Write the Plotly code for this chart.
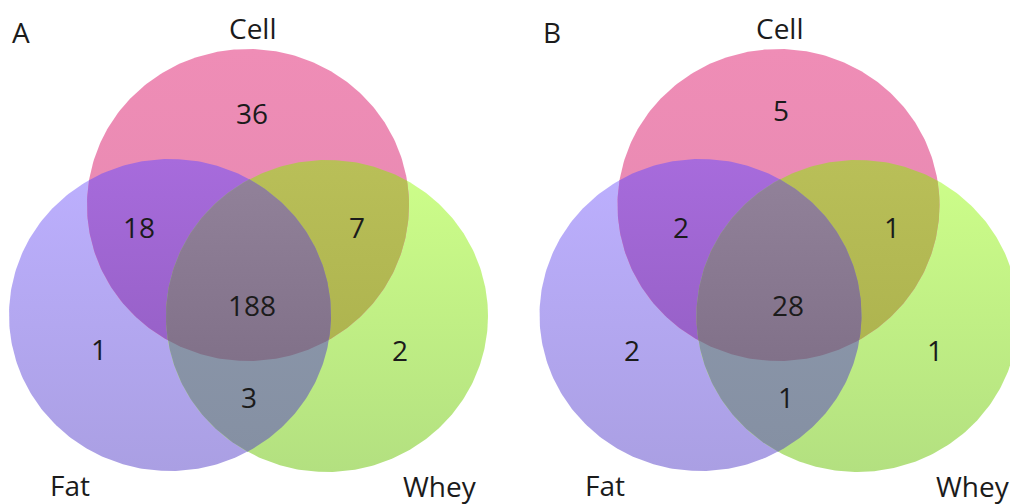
import numpy as np
import plotly.graph_objects as go

# ---- data ---------------------------------------------------------------
set_names = ["Cell", "Fat", "Whey"]
panel_names = ["A", "B"]
region_keys = ["Cell", "Fat", "Whey", "Cell&Fat", "Cell&Whey", "Fat&Whey", "Cell&Fat&Whey"]
counts_A = [36, 1, 2, 18, 7, 3, 188]
counts_B = [5, 2, 1, 2, 1, 1, 28]

# ---- geometry (pixel-like units, y grows downward) ------------------------
W, H = 1010, 504
panel_dx = [0, 530.5]
circle_geom = {          # cx, cy, rx, ry
    "Cell": (248, 205, 161, 156),
    "Fat": (170, 315, 161, 156),
    "Whey": (327, 316, 161, 156),
}
region_pos = {
    "A": {"Cell": (252, 113), "Fat": (99, 349), "Whey": (400, 350),
          "Cell&Fat": (139, 227), "Cell&Whey": (357, 227),
          "Fat&Whey": (249, 397), "Cell&Fat&Whey": (252, 305)},
    "B": {"Cell": (250.5, 110), "Fat": (101.5, 350), "Whey": (404.5, 350),
          "Cell&Fat": (150.5, 227), "Cell&Whey": (361.5, 227),
          "Fat&Whey": (255.5, 397), "Cell&Fat&Whey": (257.5, 305)},
}
set_label_pos = {
    "A": {"Cell": (253, 28), "Fat": (70, 485), "Whey": (440, 486)},
    "B": {"Cell": (249.5, 28), "Fat": (74.5, 485), "Whey": (442, 486)},
}
panel_label_pos = (21, 32)

# region fills: (top colour, bottom colour)
region_colors = {
    "Cell": ("#EF8DB6", "#E488B0"),
    "Fat": ("#BDB0FF", "#AA9FE3"),
    "Whey": ("#CEFF8A", "#B3E080"),
    "Cell&Fat": ("#A76BDC", "#9660C6"),
    "Cell&Whey": ("#B9BF58", "#ADB34E"),
    "Fat&Whey": ("#8E9AAE", "#8590A3"),
    "Cell&Fat&Whey": ("#918199", "#817189"),
}
text_color = "#1b1b1b"
font_family = "Open Sans, Noto Sans, sans-serif"


def ellipse(cx, cy, rx, ry, n=360):
    t = np.linspace(0, 2 * np.pi, n, endpoint=False)
    return list(zip(cx + rx * np.cos(t), cy + ry * np.sin(t)))


def clip(subject, clipper):
    """Sutherland-Hodgman clipping of a polygon by a convex polygon."""
    def side(a, b, p):
        return (b[0] - a[0]) * (p[1] - a[1]) - (b[1] - a[1]) * (p[0] - a[0])

    def inter(p, q, a, b):
        s1, s2 = side(a, b, p), side(a, b, q)
        t = s1 / (s1 - s2)
        return (p[0] + t * (q[0] - p[0]), p[1] + t * (q[1] - p[1]))

    out = subject
    n = len(clipper)
    for i in range(n):
        a, b = clipper[i], clipper[(i + 1) % n]
        inp, out = out, []
        if not inp:
            break
        prev = inp[-1]
        for cur in inp:
            ci, pi = side(a, b, cur) >= 0, side(a, b, prev) >= 0
            if ci:
                if not pi:
                    out.append(inter(prev, cur, a, b))
                out.append(cur)
            elif pi:
                out.append(inter(prev, cur, a, b))
            prev = cur
    return out


fig = go.Figure()

for pi, pname in enumerate(panel_names):
    dx = panel_dx[pi]
    polys = {k: ellipse(g[0] + dx, g[1], g[2], g[3]) for k, g in circle_geom.items()}
    shapes = {
        "Cell": polys["Cell"], "Fat": polys["Fat"], "Whey": polys["Whey"],
        "Cell&Fat": clip(polys["Cell"], polys["Fat"]),
        "Cell&Whey": clip(polys["Cell"], polys["Whey"]),
        "Fat&Whey": clip(polys["Fat"], polys["Whey"]),
    }
    shapes["Cell&Fat&Whey"] = clip(shapes["Cell&Fat"], polys["Whey"])

    # paint order: whole sets, pairwise overlaps, triple overlap
    for key in ["Fat", "Whey", "Cell", "Cell&Fat", "Cell&Whey", "Fat&Whey", "Cell&Fat&Whey"]:
        pts = shapes[key]
        xs = [p[0] for p in pts] + [pts[0][0]]
        ys = [p[1] for p in pts] + [pts[0][1]]
        top, bottom = region_colors[key]
        # colorscale runs from the bottom of the screen (0) to the top (1)
        fig.add_trace(go.Scatter(
            x=xs, y=ys, mode="lines", fill="toself",
            line=dict(width=0, color=top),
            fillgradient=dict(type="vertical", colorscale=[[0, bottom], [1, top]]),
            hoverinfo="skip", showlegend=False,
        ))

    counts = counts_A if pname == "A" else counts_B
    for key, val in zip(region_keys, counts):
        x, y = region_pos[pname][key]
        fig.add_annotation(x=x + dx, y=y, text=str(val), showarrow=False,
                           font=dict(size=28, color=text_color, family=font_family))
    for name in set_names:
        x, y = set_label_pos[pname][name]
        fig.add_annotation(x=x + dx, y=y, text=name, showarrow=False,
                           font=dict(size=28, color=text_color, family=font_family))
    fig.add_annotation(x=panel_label_pos[0] + dx, y=panel_label_pos[1], text=pname,
                       showarrow=False,
                       font=dict(size=28, color=text_color, family=font_family))

fig.update_xaxes(range=[0, W], visible=False, fixedrange=True)
fig.update_yaxes(range=[H, 0], visible=False, fixedrange=True)
fig.update_layout(
    width=W, height=H, margin=dict(l=0, r=0, t=0, b=0),
    paper_bgcolor="white", plot_bgcolor="white",
)
fig.write_html("out.html")
